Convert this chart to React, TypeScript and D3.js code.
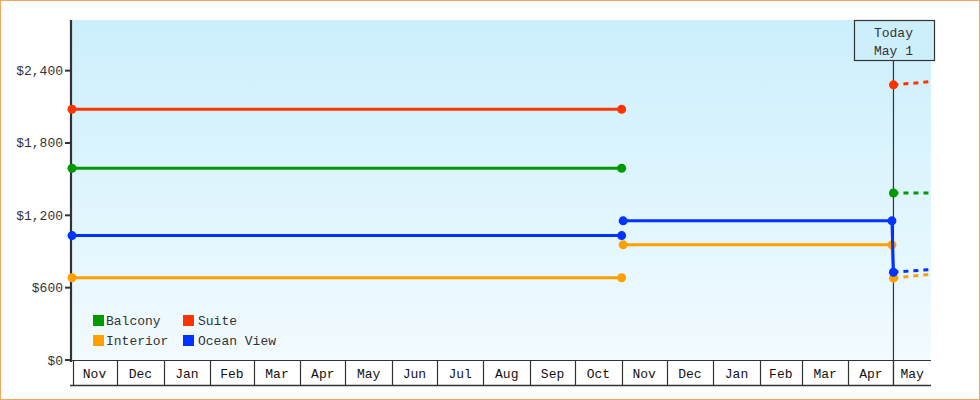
import React from 'react';
import * as d3 from 'd3';

// Cabin fare history: one price for the first season, a repricing in November,
// today's fare and a short projection.
const seriesNames = ['Balcony', 'Suite', 'Interior', 'Ocean View'];
const seriesColors = ['#009900', '#ff3300', '#ffa000', '#0033ff'];
const firstSeason = [1590, 2080, 682, 1032];
const secondSeason: (number | null)[] = [null, null, 955, 1154];
const todayFare = [1385, 2282, 679, 728];
const projectedFare = [1385, 2309, 712, 751];

const firstStart = new Date(2023, 10, 1);
const firstEnd = new Date(2024, 10, 1);
const secondStart = new Date(2024, 10, 2);
const secondEnd = new Date(2025, 3, 30);
const today = new Date(2025, 4, 1);
const axisEnd = new Date(2025, 4, 26);

const yTicks = [0, 600, 1200, 1800, 2400];

const W = 980;
const H = 400;
const left = 72;
const right = 931;
const top = 20;
const bottom = 360;
const font = '"Liberation Mono", "DejaVu Sans Mono", monospace';
const ink = '#333333';

type Pt = [Date, number];

const App: React.FC = () => {
  const x = d3.scaleTime().domain([firstStart, axisEnd]).range([left, right]);
  const y = d3.scaleLinear().domain([0, 2820]).range([bottom, top]);
  const line = d3
    .line<Pt>()
    .x((d) => x(d[0]))
    .y((d) => y(d[1]));

  const monthStarts = d3.timeMonth.range(firstStart, axisEnd);
  const fmt = d3.timeFormat('%b');
  const money = (v: number) => '$' + d3.format(',')(v);
  const tx = x(today);

  return (
    <div style={{ position: 'absolute', left: 0, top: 0 }}>
      <svg width={W} height={H} style={{ display: 'block' }} fontFamily={font}>
        <defs>
          <linearGradient id="bg" x1="0" y1="0" x2="0" y2="1">
            <stop offset="0%" stopColor="#cbeffc" />
            <stop offset="100%" stopColor="#f2fbff" />
          </linearGradient>
          <clipPath id="plot">
            <rect x={left - 6} y={top} width={right - left + 6} height={bottom - top + 6} />
          </clipPath>
        </defs>
        <rect x={0.5} y={0.5} width={W - 1} height={H - 1} fill="#ffffff" stroke="#eaa860" />
        <rect x={left} y={top} width={right - left} height={bottom - top} fill="url(#bg)" />

        {/* month boxes */}
        <line x1={left} x2={right} y1={bottom + 0.5} y2={bottom + 0.5} stroke={ink} />
        <line x1={left - 2} x2={right} y1={385.5} y2={385.5} stroke={ink} strokeWidth={1.5} />
        {monthStarts.map((m, i) => {
          const next = i + 1 < monthStarts.length ? x(monthStarts[i + 1]) : right;
          const mx = Math.round(x(m)) + 0.5;
          return (
            <g key={i}>
              {i > 0 && <line x1={mx} x2={mx} y1={bottom} y2={385} stroke={ink} strokeWidth={1.2} />}
              <text x={(x(m) + next) / 2} y={378} fontSize={13} textAnchor="middle" fill="#111">
                {fmt(m)}
              </text>
            </g>
          );
        })}
        <line x1={left + 1.5} x2={left + 1.5} y1={bottom} y2={385} stroke={ink} strokeWidth={1.2} />

        {/* y axis */}
        <line x1={left - 1} x2={left - 1} y1={top} y2={bottom + 2} stroke={ink} strokeWidth={2.2} />
        {yTicks.map((t) => (
          <g key={t}>
            <line x1={left - 7} x2={left - 1} y1={y(t)} y2={y(t)} stroke={ink} strokeWidth={2} />
            <text x={left - 9} y={y(t) + 4.5} fontSize={13} textAnchor="end" fill={ink}>
              {money(t)}
            </text>
          </g>
        ))}

        {/* today marker */}
        <line x1={tx} x2={tx} y1={60} y2={385} stroke={ink} strokeWidth={1.2} />
        <rect x={854.5} y={20.5} width={80} height={40} fill="#cdeffc" stroke={ink} strokeWidth={1.2} />
        <text x={tx} y={37} fontSize={13} textAnchor="middle" fill={ink}>Today</text>
        <text x={tx} y={55} fontSize={13} textAnchor="middle" fill={ink}>May 1</text>

        {/* series */}
        <g clipPath="url(#plot)">
          {seriesNames.map((name, i) => {
            const c = seriesColors[i];
            const first: Pt[] = [[firstStart, firstSeason[i]], [firstEnd, firstSeason[i]]];
            const s2 = secondSeason[i];
            const second: Pt[] | null =
              s2 == null ? null : [[secondStart, s2], [secondEnd, s2], [today, todayFare[i]]];
            const proj: Pt[] = [[today, todayFare[i]], [axisEnd, projectedFare[i]]];
            const dots: Pt[] = [...first, [today, todayFare[i]]];
            if (second) dots.push(second[0], second[1]);
            return (
              <g key={name}>
                <path d={line(first) ?? ''} fill="none" stroke={c} strokeWidth={3} />
                {second && <path d={line(second) ?? ''} fill="none" stroke={c} strokeWidth={3} />}
                <path d={line(proj) ?? ''} fill="none" stroke={c} strokeWidth={3} strokeDasharray="5,5" />
                {dots.map((d, k) => (
                  <circle key={k} cx={x(d[0])} cy={y(d[1])} r={4.5} fill={c} />
                ))}
              </g>
            );
          })}
        </g>

        {/* legend */}
        {seriesNames.map((name, i) => {
          const col = i % 2;
          const row = Math.floor(i / 2);
          const lx = 93 + col * 90;
          const ly = 315 + row * 20;
          return (
            <g key={name}>
              <rect x={lx} y={ly} width={11} height={11} fill={seriesColors[i]} />
              <text x={lx + (col ? 15 : 13)} y={ly + 10} fontSize={13} fill={ink}>{name}</text>
            </g>
          );
        })}
      </svg>
    </div>
  );
};

export default App;
